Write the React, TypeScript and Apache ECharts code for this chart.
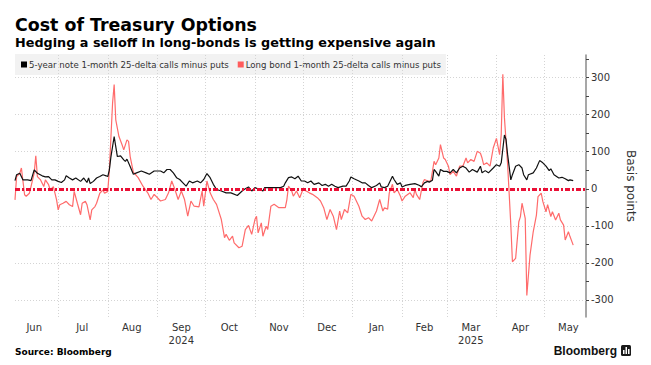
import React, { useEffect, useRef } from "react";
import * as echarts from "echarts";

const noteName = "5-year note 1-month 25-delta calls minus puts";
const bondName = "Long bond 1-month 25-delta calls minus puts";

const noteDates = [
  "2024-06-04","2024-06-05","2024-06-07","2024-06-09","2024-06-12","2024-06-14","2024-06-16","2024-06-18","2024-06-21","2024-06-23",
  "2024-06-25","2024-06-27","2024-06-29","2024-07-01","2024-07-03","2024-07-05","2024-07-06","2024-07-08","2024-07-10","2024-07-12",
  "2024-07-15","2024-07-17","2024-07-19","2024-07-20","2024-07-21","2024-07-23","2024-07-25","2024-07-27","2024-07-29","2024-07-31",
  "2024-08-01","2024-08-02","2024-08-03","2024-08-05","2024-08-06","2024-08-07","2024-08-09","2024-08-11","2024-08-12","2024-08-13",
  "2024-08-15","2024-08-17","2024-08-19","2024-08-22","2024-08-25","2024-08-27","2024-08-30","2024-09-03","2024-09-05","2024-09-07",
  "2024-09-09","2024-09-11","2024-09-13","2024-09-15","2024-09-17","2024-09-19","2024-09-21","2024-09-23","2024-09-26","2024-09-28",
  "2024-09-30","2024-10-02","2024-10-04","2024-10-06","2024-10-08","2024-10-11","2024-10-14","2024-10-17","2024-10-21","2024-10-24",
  "2024-10-26","2024-10-28","2024-10-30","2024-11-01","2024-11-04","2024-11-06","2024-11-07","2024-11-10","2024-11-13","2024-11-17",
  "2024-11-19","2024-11-20","2024-11-22","2024-11-24","2024-11-26","2024-11-28","2024-11-30","2024-12-02","2024-12-04","2024-12-06",
  "2024-12-08","2024-12-11","2024-12-13","2024-12-15","2024-12-17","2024-12-19","2024-12-21","2024-12-23","2024-12-26","2024-12-28",
  "2024-12-30","2024-12-31","2025-01-02","2025-01-05","2025-01-07","2025-01-09","2025-01-11","2025-01-13","2025-01-15","2025-01-16",
  "2025-01-18","2025-01-19","2025-01-21","2025-01-23","2025-01-26","2025-01-27","2025-01-29","2025-01-31","2025-02-01","2025-02-03",
  "2025-02-06","2025-02-09","2025-02-12","2025-02-13","2025-02-15","2025-02-17","2025-02-18","2025-02-20","2025-02-21","2025-02-22",
  "2025-02-24","2025-02-25","2025-02-27","2025-03-01","2025-03-03","2025-03-05","2025-03-07","2025-03-09","2025-03-11","2025-03-13",
  "2025-03-15","2025-03-17","2025-03-20","2025-03-22","2025-03-23","2025-03-25","2025-03-27","2025-03-30","2025-04-01","2025-04-03",
  "2025-04-04","2025-04-06","2025-04-07","2025-04-08","2025-04-10","2025-04-11","2025-04-13","2025-04-15","2025-04-17","2025-04-18",
  "2025-04-20","2025-04-21","2025-04-24","2025-04-26","2025-04-28","2025-04-30","2025-05-02","2025-05-04","2025-05-05","2025-05-07",
  "2025-05-10","2025-05-12","2025-05-14","2025-05-16","2025-05-17","2025-05-19"
];
const noteValues = [
  22,38,42,24,24,22,51,42,35,32,
  33,24,24,20,17,24,35,29,24,29,
  20,29,17,29,14,20,29,33,38,35,
  33,51,87,141,114,87,89,78,74,80,
  60,39,43,48,43,39,48,48,43,52,
  52,43,30,25,16,7,21,16,21,16,
  25,41,30,12,-2,-6,-11,-11,-18,-6,
  0,5,-6,3,-2,-6,3,3,3,3,
  7,16,30,32,27,34,21,21,16,21,
  12,16,9,12,7,12,7,3,7,7,
  21,32,27,21,16,16,9,3,7,9,
  16,5,3,7,34,25,12,16,5,9,
  12,14,9,5,16,20,18,23,52,47,
  34,52,47,47,43,52,43,56,61,56,
  45,52,45,61,43,49,43,56,65,61,
  70,145,133,92,24,38,61,65,56,38,
  24,38,43,56,76,70,61,49,54,38,
  29,31,27,22,24,22
];

const bondDates = [
  "2024-06-04","2024-06-05","2024-06-07","2024-06-08","2024-06-10","2024-06-11","2024-06-13","2024-06-14","2024-06-16","2024-06-17",
  "2024-06-18","2024-06-20","2024-06-22","2024-06-23","2024-06-25","2024-06-26","2024-06-28","2024-06-30","2024-07-01","2024-07-02",
  "2024-07-04","2024-07-06","2024-07-08","2024-07-10","2024-07-11","2024-07-13","2024-07-15","2024-07-16","2024-07-18","2024-07-19",
  "2024-07-21","2024-07-22","2024-07-24","2024-07-25","2024-07-27","2024-07-29","2024-07-30","2024-08-01","2024-08-02","2024-08-03",
  "2024-08-04","2024-08-05","2024-08-06","2024-08-08","2024-08-10","2024-08-11","2024-08-13","2024-08-14","2024-08-15","2024-08-17",
  "2024-08-20","2024-08-23","2024-08-26","2024-08-28","2024-08-30","2024-09-03","2024-09-06","2024-09-08","2024-09-10","2024-09-12",
  "2024-09-14","2024-09-16","2024-09-18","2024-09-20","2024-09-22","2024-09-24","2024-09-27","2024-09-29","2024-09-30","2024-10-02",
  "2024-10-04","2024-10-06","2024-10-08","2024-10-11","2024-10-13","2024-10-14","2024-10-16","2024-10-18","2024-10-19","2024-10-22",
  "2024-10-24","2024-10-26","2024-10-28","2024-10-30","2024-11-01","2024-11-02","2024-11-03","2024-11-05","2024-11-06","2024-11-08",
  "2024-11-09","2024-11-11","2024-11-13","2024-11-16","2024-11-18","2024-11-20","2024-11-21","2024-11-22","2024-11-24","2024-11-25",
  "2024-11-27","2024-11-29","2024-12-01","2024-12-03","2024-12-05","2024-12-07","2024-12-10","2024-12-12","2024-12-14","2024-12-16",
  "2024-12-18","2024-12-20","2024-12-22","2024-12-24","2024-12-25","2024-12-27","2024-12-29","2024-12-31","2025-01-02","2025-01-05",
  "2025-01-07","2025-01-09","2025-01-11","2025-01-13","2025-01-16","2025-01-18","2025-01-20","2025-01-21","2025-01-23","2025-01-24",
  "2025-01-26","2025-01-27","2025-01-29","2025-01-31","2025-02-01","2025-02-03","2025-02-06","2025-02-08","2025-02-09","2025-02-10",
  "2025-02-12","2025-02-14","2025-02-15","2025-02-17","2025-02-19","2025-02-21","2025-02-22","2025-02-24","2025-02-25","2025-02-27",
  "2025-02-28","2025-03-02","2025-03-03","2025-03-05","2025-03-07","2025-03-09","2025-03-11","2025-03-13","2025-03-14","2025-03-16",
  "2025-03-18","2025-03-20","2025-03-22","2025-03-23","2025-03-24","2025-03-26","2025-03-28","2025-03-30","2025-04-01","2025-04-03",
  "2025-04-04","2025-04-05","2025-04-06","2025-04-08","2025-04-09","2025-04-10","2025-04-11","2025-04-13","2025-04-15","2025-04-16",
  "2025-04-17","2025-04-19","2025-04-20","2025-04-22","2025-04-24","2025-04-26","2025-04-27","2025-04-29","2025-04-30","2025-05-02",
  "2025-05-03","2025-05-05","2025-05-06","2025-05-08","2025-05-10","2025-05-11","2025-05-13","2025-05-14","2025-05-16","2025-05-17",
  "2025-05-19"
];
const bondValues = [
  -30,33,42,56,-16,-20,-12,6,42,89,
  33,24,6,24,11,-3,6,-30,-57,-43,
  -39,-34,-43,-48,-7,-39,-70,-39,-34,-43,
  -84,-57,-48,-39,-12,-3,-12,-7,51,141,
  231,281,186,141,118,105,132,128,87,45,
  30,7,-11,-29,-15,-33,-29,-11,21,-2,
  -29,-6,-29,-74,-33,-47,-49,-6,-47,21,
  -11,-29,-42,-83,-132,-123,-139,-128,-146,-159,
  -155,-110,-99,-123,-83,-74,-119,-92,-128,-101,
  -110,-47,-42,-51,-51,-51,-29,7,-6,-20,
  -6,-24,-2,-6,-11,-15,-24,-33,-51,-83,
  -56,-74,-110,-60,-83,-56,-65,-15,-20,-47,
  -74,-83,-78,-87,-60,-29,-60,-51,-55,-11,
  12,-11,-2,-20,-33,-20,-11,-24,-2,-15,
  -29,16,25,21,21,74,65,83,119,83,
  79,61,38,47,34,61,61,83,70,79,
  74,101,96,83,65,70,61,110,136,92,
  147,309,192,65,-16,-98,-197,-188,-89,-75,
  -39,-80,-288,-179,-116,-71,-21,-12,-34,-62,
  -43,-75,-62,-84,-66,-84,-98,-138,-116,-129,
  -152
];

const monthStarts = [
  "2024-07-01","2024-08-01","2024-09-01","2024-10-01","2024-11-01","2024-12-01",
  "2025-01-01","2025-02-01","2025-03-01","2025-04-01","2025-05-01"
];
const monthLabelDates = [
  "2024-06-16","2024-07-16","2024-08-16","2024-09-16","2024-10-16","2024-11-16",
  "2024-12-16","2025-01-16","2025-02-15","2025-03-16","2025-04-16","2025-05-16"
];
const monthLabels = ["Jun","Jul","Aug","Sep\n2024","Oct","Nov","Dec","Jan","Feb","Mar\n2025","Apr","May"];
const yLabelValues = [-300, -200, -100, 0, 100, 200, 300];
const yTickValues = [-300, -250, -200, -150, -100, -50, 0, 50, 100, 150, 200, 250, 300, 350];
const yGridValues = [-300, -200, -100, 100, 200, 300];
const xRange = ["2024-06-04", "2025-05-27"];

const ts = (s: string) => {
  const [y, m, d] = s.split("-").map(Number);
  return new Date(y, m - 1, d).getTime();
};

export default function App() {
  const ref = useRef<HTMLDivElement>(null);
  useEffect(() => {
    if (!ref.current) return;
    const chart = echarts.init(ref.current, undefined, { renderer: "svg" });
    const labelTs = monthLabelDates.map(ts);
    const font = "DejaVu Sans";
    const option: any = {
      animation: false,
      backgroundColor: "#ffffff",
      grid: { left: 15, right: 65, top: 55, bottom: 48, containLabel: false },
      legend: {
        left: 15,
        top: 54,
        z: 0,
        orient: "horizontal",
        backgroundColor: "#f2f2f2",
        padding: [6, 5, 6, 6],
        itemWidth: 6,
        itemHeight: 6,
        itemGap: 9,
        icon: "rect",
        textStyle: { fontFamily: font, fontSize: 8.6, color: "#333", padding: [0, 0, 0, -3] },
        data: [noteName, bondName],
      },
      xAxis: {
        type: "value",
        min: ts(xRange[0]),
        max: ts(xRange[1]),
        axisLine: { show: false },
        axisTick: { show: false },
        splitLine: { show: false },
        axisLabel: {
          customValues: labelTs,
          color: "#333",
          fontFamily: font,
          fontSize: 10,
          lineHeight: 13,
          margin: 4,
          formatter: (v: number) => {
            let best = 0;
            for (let i = 0; i < labelTs.length; i++) {
              if (Math.abs(labelTs[i] - v) < Math.abs(labelTs[best] - v)) best = i;
            }
            return monthLabels[best];
          },
        },
      },
      yAxis: {
        type: "value",
        position: "right",
        min: -346,
        max: 361,
        axisLine: { show: true, onZero: false, lineStyle: { color: "#8a8a8a", width: 1.5 } },
        axisTick: { show: true, customValues: yTickValues, length: 3, lineStyle: { color: "#444" } },
        splitLine: { show: false },
        axisLabel: { customValues: yLabelValues, color: "#333", fontFamily: font, fontSize: 10, margin: 5 },
        name: "Basis points",
        nameLocation: "middle",
        nameRotate: -90,
        nameGap: 36,
        nameTextStyle: { fontFamily: font, fontSize: 12, color: "#333" },
      },
      series: [
        {
          name: noteName,
          type: "line",
          data: noteDates.map((d, i) => [ts(d), noteValues[i]]),
          showSymbol: false,
          color: "#000000",
          lineStyle: { color: "#111111", width: 1.2 },
          z: 4,
          markLine: {
            silent: true,
            symbol: ["none", "none"],
            label: { show: false },
            z: 10,
            lineStyle: { color: "#ea0f35", width: 3, type: [5, 2, 2, 2] },
            data: [{ yAxis: 0 }],
          },
        },
        {
          name: bondName,
          type: "line",
          data: bondDates.map((d, i) => [ts(d), bondValues[i]]),
          showSymbol: false,
          color: "#ff5c5c",
          lineStyle: { color: "#ff6b6b", width: 1.2 },
          z: 3,
          markLine: {
            silent: true,
            symbol: ["none", "none"],
            label: { show: false },
            z: 1,
            lineStyle: { color: "#d4d4d4", width: 1, type: [1, 2] },
            data: [
              ...monthStarts.map((d) => ({ xAxis: ts(d) })),
              ...yGridValues.map((v) => ({ yAxis: v })),
            ],
          },
        },
      ],
      graphic: [
        {
          type: "text",
          x: 15,
          y: 24.5,
          style: { text: "Cost of Treasury Options", font: `bold 17.4px "${font}"`, fill: "#000", verticalAlign: "middle" },
        },
        {
          type: "text",
          x: 15,
          y: 42.5,
          style: {
            text: "Hedging a selloff in long-bonds is getting expensive again",
            font: `bold 12.8px "${font}"`,
            fill: "#000",
            verticalAlign: "middle",
          },
        },
        {
          type: "text",
          x: 15,
          y: 352,
          style: { text: "Source: Bloomberg", font: `bold 9px "${font}"`, fill: "#000", verticalAlign: "middle" },
        },
        {
          type: "text",
          x: 617,
          y: 351,
          style: {
            text: "Bloomberg",
            font: `bold 12px "Liberation Sans"`,
            fill: "#111",
            align: "right",
            verticalAlign: "middle",
          },
        },
        { type: "rect", shape: { x: 621, y: 345, width: 10, height: 11, r: 1.5 }, style: { fill: "#1a1a1a" } },
        { type: "rect", shape: { x: 623, y: 350, width: 1.5, height: 4 }, style: { fill: "#fff" } },
        { type: "rect", shape: { x: 625.5, y: 347, width: 1.5, height: 7 }, style: { fill: "#fff" } },
        { type: "rect", shape: { x: 628, y: 349, width: 1.5, height: 5 }, style: { fill: "#fff" } },
      ],
    };
    chart.setOption(option);
    return () => chart.dispose();
  }, []);
  return (
    <div
      ref={ref}
      style={{ position: "fixed", left: 0, top: 0, width: 651, height: 365, background: "#fff" }}
    />
  );
}
